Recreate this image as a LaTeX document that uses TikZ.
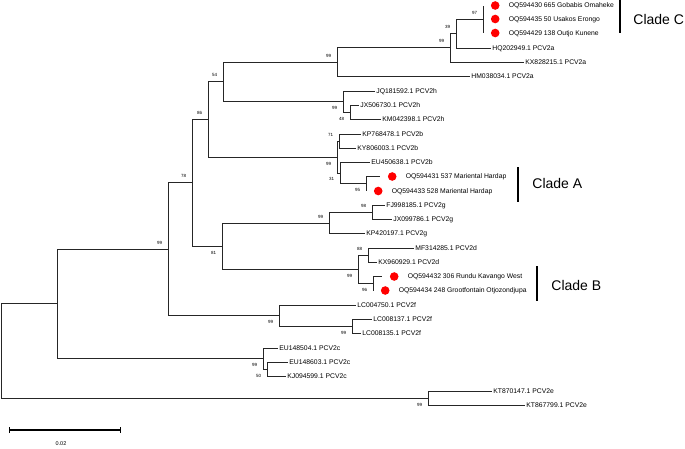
\documentclass[tikz,border=0pt]{standalone}
\usepackage{fontspec}
\setmainfont{Liberation Sans}
\usetikzlibrary{positioning,arrows.meta}

\begin{document}
\begin{tikzpicture}[x=1pt,y=-1pt,line width=0.8pt,node distance=7.5pt,
  branch/.style={draw=black!85},
  leaf/.style={anchor=west,inner sep=1pt,font=\fontsize{6.8}{7}\selectfont,text height=4.9pt,text depth=0pt},
  dot/.style={circle,fill=red,inner sep=0pt,minimum size=8.6pt},
  bsup/.style={anchor=south east,inner sep=0pt,xshift=-5.5pt,yshift=4.5pt,font=\fontsize{4.5}{5}\selectfont},
  bslo/.style={anchor=north east,inner sep=0pt,xshift=-5.5pt,yshift=-4.5pt,font=\fontsize{4.5}{5}\selectfont},
  clade/.style={anchor=west,inner sep=0pt,font=\fontsize{14}{16}\selectfont,text height=10pt,text depth=0pt},
  cladebar/.style={line width=1.5pt}]

\useasboundingbox (0,0) rectangle (685,448);

% internal nodes
\coordinate (root) at (1,350.9);
\coordinate (inner) at (57,303.8);
\coordinate (main) at (168,249.1);
\coordinate (n78) at (192,182.8);
\coordinate (n86) at (208,119.4);
\coordinate (n54) at (223,81.8);
\coordinate (pcva) at (337,62.2);
\coordinate (pcvab) at (450,47.8);
\coordinate (n39) at (456,33.6);
\coordinate (cladec) at (483,19.25);
\coordinate (pcvh) at (343,101.5);
\coordinate (pcvhb) at (350,112);
\coordinate (pcvb) at (337,157);
\coordinate (pcvbb) at (339,141);
\coordinate (n31) at (340,172.9);
\coordinate (cladea) at (366,183.75);
\coordinate (n81) at (222,246.1);
\coordinate (pcvg) at (329,223);
\coordinate (pcvgb) at (372,212.5);
\coordinate (pcvd) at (358,269.25);
\coordinate (pcvdb) at (368,255);
\coordinate (claden) at (373,283.5);
\coordinate (pcvf) at (279,315.5);
\coordinate (pcvfb) at (352,326);
\coordinate (pcvc) at (263,358.5);
\coordinate (pcvcb) at (267,369);
\coordinate (pcve) at (428,398);

% leaves
\coordinate (t430) at (483,5.5);
\node[dot,right=of t430] (d430) {};
\node[leaf,right=of d430] (oq430) {OQ594430 665 Gobabis Omaheke};
\coordinate (t435) at (483,19);
\node[dot,right=of t435] (d435) {};
\node[leaf,right=of d435] (oq435) {OQ594435 50 Usakos Erongo};
\coordinate (t429) at (483,33);
\node[dot,right=of t429] (d429) {};
\node[leaf,right=of d429] (oq429) {OQ594429 138 Outjo Kunene};
\node[leaf] (hq202) at (491,48) {HQ202949.1 PCV2a};
\node[leaf] (kx828) at (524,62) {KX828215.1 PCV2a};
\node[leaf] (hm038) at (470,76.5) {HM038034.1 PCV2a};
\node[leaf] (jq181) at (375,91) {JQ181592.1 PCV2h};
\node[leaf] (jx506) at (359,105) {JX506730.1 PCV2h};
\node[leaf] (km042) at (381,119) {KM042398.1 PCV2h};
\node[leaf] (kp768) at (361,134) {KP768478.1 PCV2b};
\node[leaf] (ky806) at (356,148) {KY806003.1 PCV2b};
\node[leaf] (eu450) at (370,162) {EU450638.1 PCV2b};
\coordinate (t431) at (380,176.5);
\node[dot,right=of t431] (d431) {};
\node[leaf,right=of d431] (oq431) {OQ594431 537 Mariental Hardap};
\coordinate (t433) at (366,191);
\node[dot,right=of t433] (d433) {};
\node[leaf,right=of d433] (oq433) {OQ594433 528 Mariental Hardap};
\node[leaf] (fj998) at (385,205.5) {FJ998185.1 PCV2g};
\node[leaf] (jx099) at (392,219.5) {JX099786.1 PCV2g};
\node[leaf] (kp420) at (365,233.5) {KP420197.1 PCV2g};
\node[leaf] (mf314) at (414,248) {MF314285.1 PCV2d};
\node[leaf] (kx960) at (377,262) {KX960929.1 PCV2d};
\coordinate (t432) at (382,276.5);
\node[dot,right=of t432] (d432) {};
\node[leaf,right=of d432] (oq432) {OQ594432 306 Rundu Kavango West};
\coordinate (t434) at (373,290.5);
\node[dot,right=of t434] (d434) {};
\node[leaf,right=of d434] (oq434) {OQ594434 248 Grootfontain Otjozondjupa};
\node[leaf] (lc004) at (356,305) {LC004750.1 PCV2f};
\node[leaf] (lc137) at (372,319) {LC008137.1 PCV2f};
\node[leaf] (lc135) at (361,333) {LC008135.1 PCV2f};
\node[leaf] (eu504) at (278,348) {EU148504.1 PCV2c};
\node[leaf] (eu603) at (288,362) {EU148603.1 PCV2c};
\node[leaf] (kj094) at (286,376) {KJ094599.1 PCV2c};
\node[leaf] (kt870) at (492,391) {KT870147.1 PCV2e};
\node[leaf] (kt867) at (525,405) {KT867799.1 PCV2e};

% branches
\draw[branch] (root) |- (inner);
\draw[branch] (root) |- (pcve);
\draw[branch] (inner) |- (main);
\draw[branch] (inner) |- (pcvc);
\draw[branch] (main) |- (n78);
\draw[branch] (main) |- (pcvf);
\draw[branch] (n78) |- (n86);
\draw[branch] (n78) |- (n81);
\draw[branch] (n86) |- (n54);
\draw[branch] (n86) |- (pcvb);
\draw[branch] (n54) |- (pcva);
\draw[branch] (n54) |- (pcvh);
\draw[branch] (pcva) |- (pcvab);
\draw[branch] (pcva) |- (hm038.west);
\draw[branch] (pcvab) |- (n39);
\draw[branch] (pcvab) |- (kx828.west);
\draw[branch] (n39) |- (cladec);
\draw[branch] (n39) |- (hq202.west);
\draw[branch] (cladec) |- (t430);
\draw[branch] (cladec) |- (t435);
\draw[branch] (cladec) |- (t429);
\draw[branch] (pcvh) |- (jq181.west);
\draw[branch] (pcvh) |- (pcvhb);
\draw[branch] (pcvhb) |- (jx506.west);
\draw[branch] (pcvhb) |- (km042.west);
\draw[branch] (pcvb) |- (pcvbb);
\draw[branch] (pcvb) |- (n31);
\draw[branch] (pcvbb) |- (kp768.west);
\draw[branch] (pcvbb) |- (ky806.west);
\draw[branch] (n31) |- (eu450.west);
\draw[branch] (n31) |- (cladea);
\draw[branch] (cladea) |- (t431);
\draw[branch] (cladea) |- (t433);
\draw[branch] (n81) |- (pcvg);
\draw[branch] (n81) |- (pcvd);
\draw[branch] (pcvg) |- (pcvgb);
\draw[branch] (pcvg) |- (kp420.west);
\draw[branch] (pcvgb) |- (fj998.west);
\draw[branch] (pcvgb) |- (jx099.west);
\draw[branch] (pcvd) |- (pcvdb);
\draw[branch] (pcvd) |- (claden);
\draw[branch] (pcvdb) |- (mf314.west);
\draw[branch] (pcvdb) |- (kx960.west);
\draw[branch] (claden) |- (t432);
\draw[branch] (claden) |- (t434);
\draw[branch] (pcvf) |- (lc004.west);
\draw[branch] (pcvf) |- (pcvfb);
\draw[branch] (pcvfb) |- (lc137.west);
\draw[branch] (pcvfb) |- (lc135.west);
\draw[branch] (pcvc) |- (eu504.west);
\draw[branch] (pcvc) |- (pcvcb);
\draw[branch] (pcvcb) |- (eu603.west);
\draw[branch] (pcvcb) |- (kj094.west);
\draw[branch] (pcve) |- (kt870.west);
\draw[branch] (pcve) |- (kt867.west);

% bootstrap values
\node[bsup] at (main) {99};
\node[bsup] at (n78) {78};
\node[bsup] at (n86) {86};
\node[bsup] at (n54) {54};
\node[bsup] at (pcva) {99};
\node[bsup] at (pcvab) {99};
\node[bsup] at (n39) {39};
\node[bsup] at (cladec) {97};
\node[bslo] at (pcvh) {99};
\node[bslo] at (pcvhb) {48};
\node[bsup] at (pcvbb) {71};
\node[bslo] at (pcvb) {99};
\node[bslo] at (n31) {31};
\node[bslo] at (cladea) {95};
\node[bslo] at (n81) {81};
\node[bsup] at (pcvg) {99};
\node[bsup] at (pcvgb) {98};
\node[bslo] at (pcvd) {99};
\node[bsup] at (pcvdb) {88};
\node[bslo] at (claden) {96};
\node[bslo] at (pcvf) {99};
\node[bslo] at (pcvfb) {99};
\node[bslo] at (pcvc) {99};
\node[bslo] at (pcvcb) {50};
\node[bslo] at (pcve) {99};

% clades
\draw[cladebar] (620,-1) -- (620,33);
\node[clade] (labc) at (633,19) {Clade C};
\draw[cladebar] (518,167) -- (518,202);
\node[clade] (laba) at (532,183) {Clade A};
\draw[cladebar] (537,266) -- (537,301);
\node[clade] (labb) at (551,285) {Clade B};

% scale bar
\coordinate (sbl) at (9,430);
\coordinate (sbr) at (121,430);
\draw[line width=1.3pt,{Bar[width=6pt]}-{Bar[width=6pt]}] (sbl) -- (sbr);
\node[inner sep=0pt,font=\fontsize{5.5}{6}\selectfont] (sblab) at (61,444) {0.02};

\end{tikzpicture}
\end{document}
